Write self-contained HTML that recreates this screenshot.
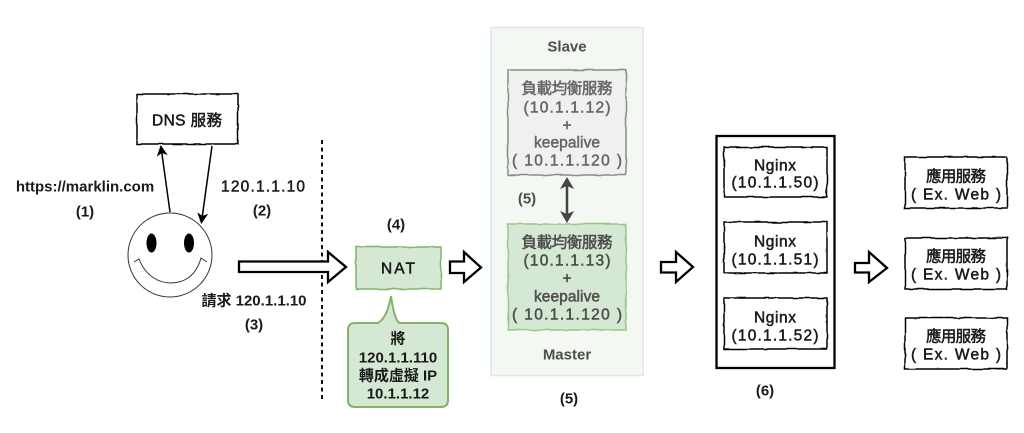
<!DOCTYPE html>
<html><head><meta charset="utf-8"><style>
html,body{margin:0;padding:0;background:#fff}
svg{display:block;filter:blur(.3px)}
text{font-family:"Liberation Sans","Noto Sans CJK TC",sans-serif;font-size:15px;font-weight:bold;fill:#1a1a1a;text-anchor:middle;dominant-baseline:central;transform:translateY(1px)}
.s{font-size:15.5px;font-weight:normal;stroke:#1a1a1a;stroke-width:.5px}
.g{fill:#666;stroke:#666}.m{fill:#4d4d4d;stroke:#4d4d4d}
</style></head><body>
<svg width="1024" height="433" viewBox="0 0 1024 433" xmlns="http://www.w3.org/2000/svg">
<defs>
<filter id="w" x="-5%" y="-5%" width="110%" height="110%"><feTurbulence type="fractalNoise" baseFrequency="0.07" numOctaves="2" seed="4"/><feDisplacementMap in="SourceGraphic" scale="2.4" xChannelSelector="R" yChannelSelector="G"/></filter>
<marker id="a" markerWidth="12" markerHeight="12" refX="9" refY="5.500" orient="auto" markerUnits="userSpaceOnUse"><path d="M0 0L11 5.500L0 11L3 5.500Z" fill="#000"/></marker>
</defs>
<g fill="#fff" stroke="#000" stroke-width="1.500" filter="url(#w)">
<rect x="137" y="94" width="101" height="50"/>
<rect x="724" y="147" width="103" height="50"/>
<rect x="724" y="222" width="103" height="51"/>
<rect x="724" y="298" width="103" height="51"/>
<rect x="905" y="157" width="102" height="51"/>
<rect x="905" y="238" width="102" height="51"/>
<rect x="905" y="318" width="102" height="51"/>
</g>
<text class="s" x="187" y="120" textLength="70">DNS 服務</text>
<text x="85" y="186">https://marklin.com</text><text x="85" y="211">(1)</text>
<text class="s" x="263" y="186" textLength="84">120.1.1.10</text><text x="262" y="210">(2)</text>
<text x="254" y="300">請求 120.1.1.10</text><text x="254" y="324">(3)</text>
<path d="M170 212L161 147" stroke="#000" stroke-width="1.500" fill="none" marker-end="url(#a)"/>
<path d="M212 146L201.500 222" stroke="#000" stroke-width="1.500" fill="none" marker-end="url(#a)"/>
<circle cx="170" cy="255" r="42" fill="#fff" stroke="#333" stroke-width="1"/>
<ellipse cx="151.500" cy="243" rx="5" ry="9.500"/><ellipse cx="189" cy="243" rx="5" ry="9.500"/>
<path d="M134 262L139 259C146 277 160 283 171 283C184 283 196 276 201 258L207 262" fill="none" stroke="#333" stroke-width="1"/>
<path d="M322 140V400" stroke="#111" stroke-width="2" stroke-dasharray="4 3.500"/>
<g fill="#fff" stroke="#000" stroke-width="2.300" stroke-linejoin="miter">
<path d="M239 261.500H328V252L346 267L328 282V272H239Z"/>
<path d="M450 261.500H464V252L481 267.500L464 282V273H450Z"/>
<path d="M661 262H676V252L693 267L676 282V272.500H661Z"/>
<path d="M855 263H869V252L887 268L869 282V272.500H855Z"/>
</g>
<text x="396" y="224">(4)</text>
<rect x="356" y="247" width="85" height="42" fill="#d5e8d4" stroke="#82b366" stroke-width="1.500" filter="url(#w)"/>
<text class="s" x="398" y="268" textLength="34">NAT</text>
<path d="M355 323H378Q387 318 391 296Q394 318 399 323H441Q448 323 448 330V400Q448 407 441 407H355Q348 407 348 400V330Q348 323 355 323Z" fill="#d5e8d4" stroke="#82b366" stroke-width="2"/>
<text x="398" y="338">將</text><text x="398" y="357">120.1.1.110</text><text x="398" y="375">轉成虛擬 IP</text><text x="398" y="393">10.1.1.12</text>
<rect x="491" y="27.500" width="152" height="348" fill="#f3f8f2" stroke="#dcebda" stroke-width="1.500"/>
<text x="567" y="46" style="fill:#4d4d4d">Slave</text>
<rect x="508" y="70" width="118" height="105" fill="#eef1ee" stroke="#8a8a8a" stroke-width="1.500" filter="url(#w)"/>
<rect x="508" y="224" width="118" height="106" fill="#d5e8d4" stroke="#9cc48c" stroke-width="1.500" filter="url(#w)"/>
<text class="s g" x="567" y="88" textLength="91">負載均衡服務</text><text class="s g" x="567" y="107" textLength="87">(10.1.1.12)</text><text class="s g" x="567" y="125">+</text><text class="s g" x="567" y="142" textLength="66">keepalive</text><text class="s g" x="567" y="160" textLength="110">( 10.1.1.120 )</text>
<text class="s m" x="567" y="242" textLength="91">負載均衡服務</text><text class="s m" x="567" y="260" textLength="87">(10.1.1.13)</text><text class="s m" x="567" y="278">+</text><text class="s m" x="567" y="296" textLength="66">keepalive</text><text class="s m" x="567" y="314" textLength="110">( 10.1.1.120 )</text>
<path d="M567 184V216" stroke="#3f4a3f" stroke-width="2.500"/>
<path d="M567 177L574 189L567 186L560 189Z M567 223L574 211L567 214L560 211Z" fill="#3f4a3f"/>
<text x="527" y="198" style="fill:#4d4d4d">(5)</text>
<text x="567" y="354" style="fill:#4d4d4d">Master</text>
<text x="569" y="398">(5)</text>
<rect x="716.500" y="136" width="118" height="232" fill="none" stroke="#000" stroke-width="2.300"/>
<text class="s" x="775" y="165" textLength="42">Nginx</text><text class="s" x="775" y="182" textLength="87">(10.1.1.50)</text>
<text class="s" x="775" y="241" textLength="42">Nginx</text><text class="s" x="775" y="259" textLength="87">(10.1.1.51)</text>
<text class="s" x="775" y="317" textLength="42">Nginx</text><text class="s" x="775" y="335" textLength="87">(10.1.1.52)</text>
<text x="765" y="390">(6)</text>
<text class="s" x="956" y="176" textLength="60">應用服務</text><text class="s" x="956" y="194" textLength="90">( Ex. Web )</text>
<text class="s" x="956" y="256" textLength="60">應用服務</text><text class="s" x="956" y="274" textLength="90">( Ex. Web )</text>
<text class="s" x="956" y="336" textLength="60">應用服務</text><text class="s" x="956" y="354" textLength="90">( Ex. Web )</text>
</svg>
</body></html>
